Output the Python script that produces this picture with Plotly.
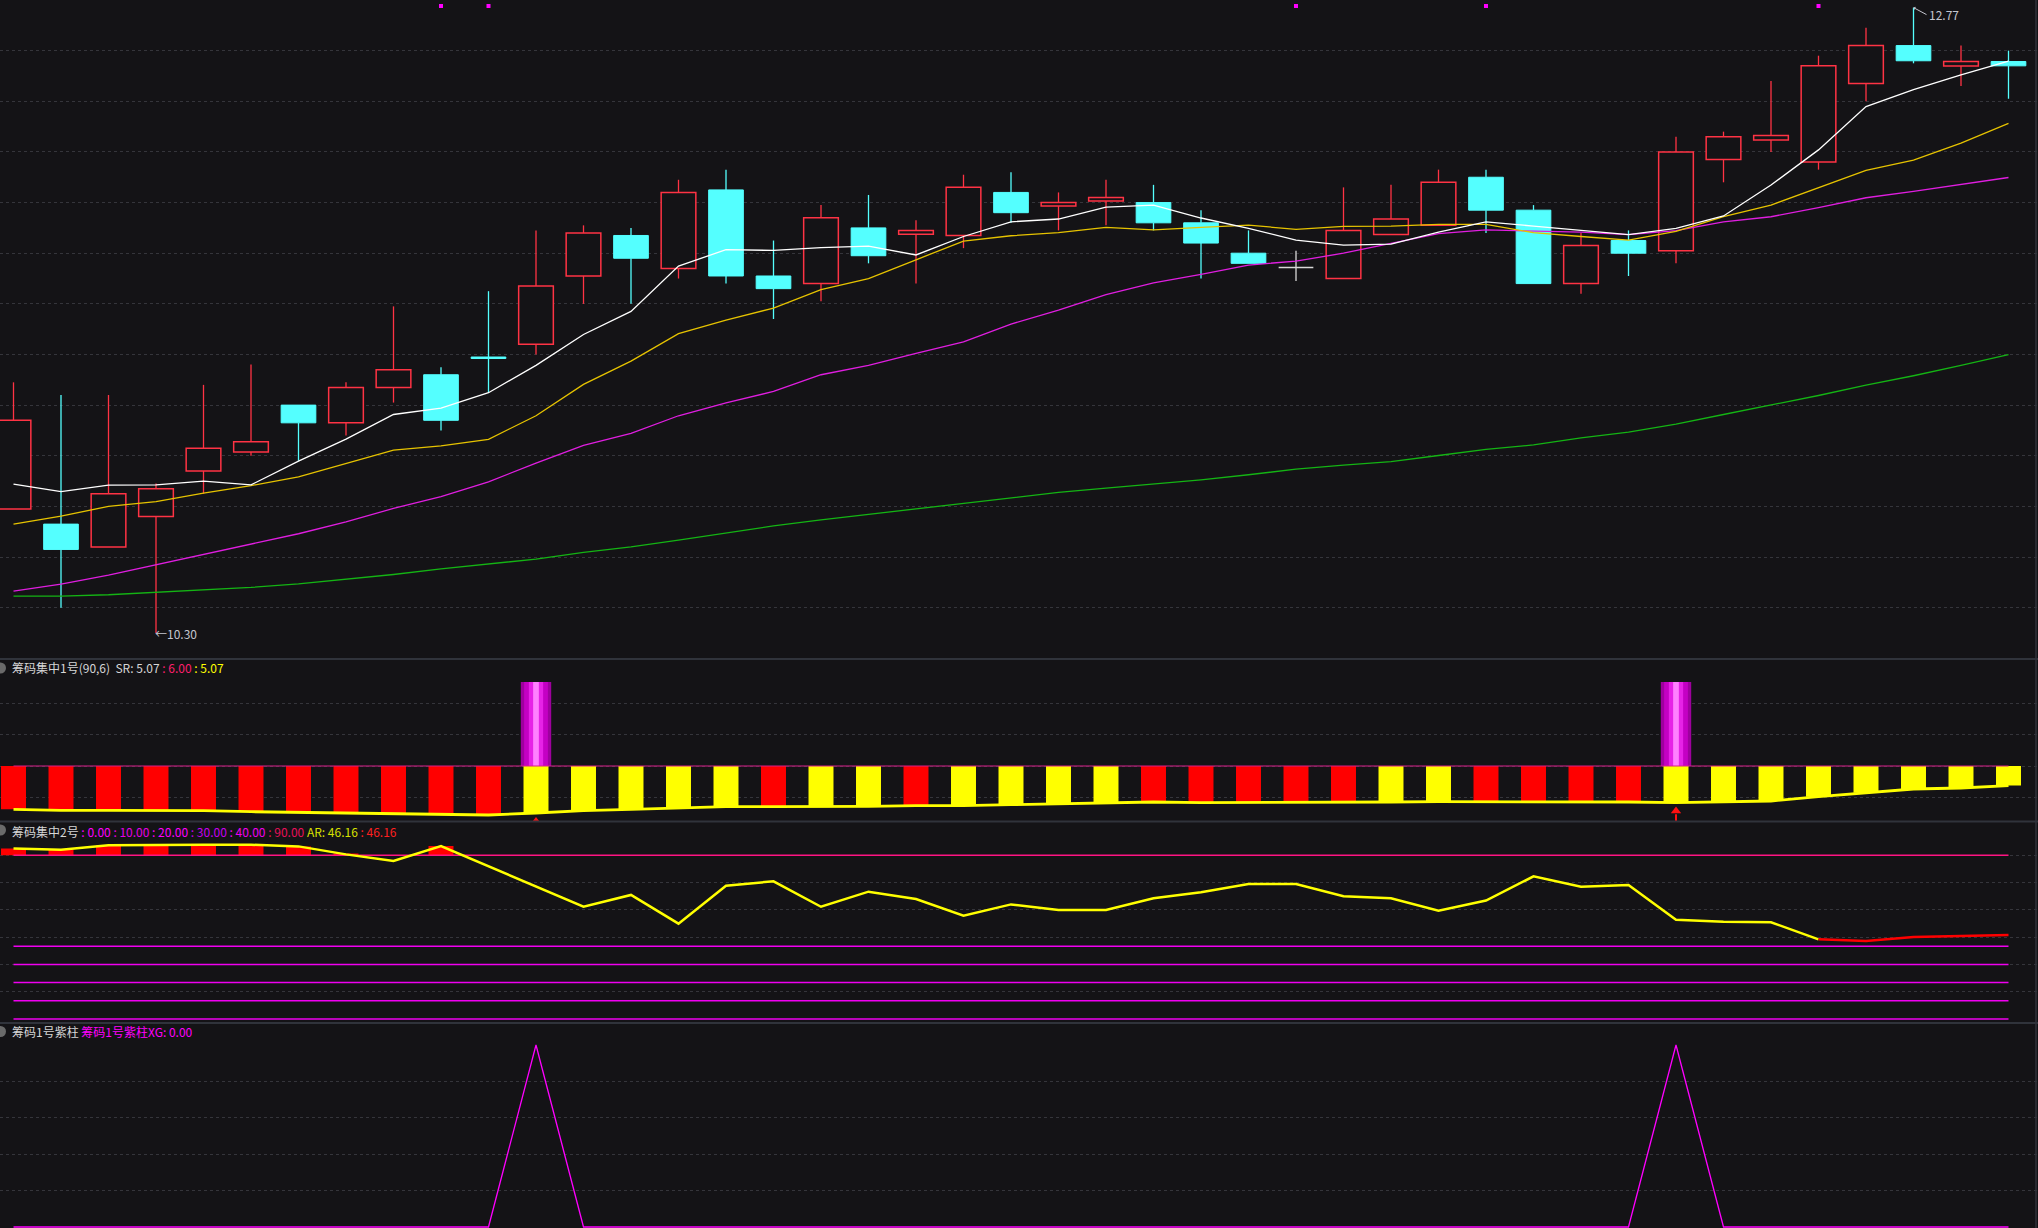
import numpy as np
import plotly.graph_objects as go
from plotly.subplots import make_subplots

W, H = 2038, 1228
BG = "#141316"
GRID = "#35353b"
SEP = "#30333b"
FONT = "Noto Sans CJK SC"

# ---------------- data ----------------
opens = [10.79, 10.73, 10.64, 10.76, 10.94, 11.015, 11.20, 11.13, 11.27, 11.32,
         11.39, 11.44, 11.71, 11.87, 11.74, 12.05, 11.71, 11.68, 11.90, 11.875,
         11.87, 12.04, 11.986, 12.006, 12.00, 11.92, 11.80, 11.744, 11.70, 11.874,
         11.91, 12.10, 11.97, 11.68, 11.85, 11.81, 12.17, 12.247, 12.16, 12.47,
         12.62, 12.539, 12.557]
highs = [11.29, 11.24, 11.24, 10.89, 11.28, 11.36, 11.20, 11.29, 11.59, 11.35,
         11.65, 11.89, 11.91, 11.90, 12.09, 12.13, 11.85, 11.99, 12.03, 11.93,
         12.11, 12.12, 12.04, 12.09, 12.07, 11.97, 11.89, 11.81, 12.06, 12.07,
         12.13, 12.13, 11.99, 11.88, 11.89, 12.26, 12.28, 12.48, 12.58, 12.69,
         12.77, 12.62, 12.60]
lows = [10.79, 10.40, 10.64, 10.30, 10.85, 11.00, 10.98, 11.08, 11.21, 11.10,
        11.25, 11.40, 11.60, 11.60, 11.70, 11.68, 11.54, 11.61, 11.76, 11.68,
        11.82, 11.92, 11.89, 11.91, 11.89, 11.70, 11.76, 11.69, 11.70, 11.874,
        11.91, 11.88, 11.68, 11.64, 11.71, 11.76, 12.08, 12.20, 12.13, 12.40,
        12.55, 12.46, 12.41]
closes = [11.14, 10.63, 10.85, 10.87, 11.03, 11.055, 11.13, 11.27, 11.34, 11.14,
          11.384, 11.67, 11.88, 11.78, 12.04, 11.71, 11.66, 11.94, 11.79, 11.89,
          12.06, 11.96, 12.00, 12.02, 11.92, 11.84, 11.76, 11.744, 11.89, 11.935,
          12.08, 11.97, 11.68, 11.83, 11.80, 12.20, 12.26, 12.265, 12.54, 12.62,
          12.56, 12.557, 12.54]

ma5 = [10.888, 10.858, 10.884, 10.885, 10.900, 10.885, 10.979, 11.066, 11.163, 11.188,
       11.249, 11.357, 11.479, 11.570, 11.749, 11.814, 11.811, 11.822, 11.828, 11.793,
       11.866, 11.924, 11.935, 11.982, 11.990, 11.939, 11.898, 11.852, 11.832, 11.836,
       11.883, 11.924, 11.907, 11.889, 11.873, 11.898, 11.947, 12.069, 12.208, 12.379,
       12.446, 12.504, 12.559]
ma10 = [10.730, 10.762, 10.800, 10.819, 10.852, 10.882, 10.917, 10.971, 11.022, 11.039,
        11.065, 11.158, 11.282, 11.374, 11.482, 11.536, 11.583, 11.656, 11.700, 11.774,
        11.848, 11.869, 11.881, 11.902, 11.892, 11.902, 11.911, 11.894, 11.906, 11.907,
        11.914, 11.914, 11.881, 11.866, 11.852, 11.886, 11.944, 11.990, 12.057, 12.127,
        12.168, 12.235, 12.313]
ma20 = [10.465, 10.493, 10.529, 10.569, 10.609, 10.652, 10.692, 10.739, 10.792, 10.839,
        10.897, 10.971, 11.041, 11.088, 11.158, 11.209, 11.254, 11.320, 11.357, 11.404,
        11.450, 11.520, 11.575, 11.636, 11.683, 11.716, 11.753, 11.769, 11.800, 11.839,
        11.877, 11.892, 11.886, 11.883, 11.873, 11.889, 11.924, 11.944, 11.980, 12.019,
        12.044, 12.072, 12.099]
ma60 = [10.446, 10.446, 10.451, 10.460, 10.470, 10.480, 10.494, 10.513, 10.531, 10.553,
        10.573, 10.592, 10.618, 10.640, 10.667, 10.694, 10.723, 10.747, 10.769, 10.789,
        10.812, 10.835, 10.855, 10.872, 10.888, 10.905, 10.925, 10.947, 10.963, 10.977,
        11.001, 11.025, 11.043, 11.071, 11.093, 11.125, 11.163, 11.199, 11.238, 11.279,
        11.316, 11.357, 11.399]
signal_dots = [9, 10, 27, 31, 38]

# 筹码集中1号
sr_top = 6.00
sr_line = [3.938, 3.890, 3.890, 3.890, 3.871, 3.824, 3.795, 3.762, 3.729, 3.700,
           3.667, 3.762, 3.871, 3.938, 3.986, 4.062, 4.062, 4.062, 4.081, 4.110,
           4.110, 4.157, 4.205, 4.238, 4.286, 4.252, 4.252, 4.252, 4.252, 4.286,
           4.300, 4.300, 4.286, 4.286, 4.286, 4.252, 4.300, 4.333, 4.538, 4.729,
           4.905, 4.952, 5.07]
sr_state = [1, 1, 1, 1, 1, 1, 1, 1, 1, 1, 1,
            0, 0, 0, 0, 0,
            1, 0, 0, 1,
            0, 0, 0, 0,
            1, 1, 1, 1, 1,
            0, 0,
            1, 1, 1, 1,
            0, 0, 0, 0, 0, 0, 0, 0]
purple_idx = [11, 35]
purple_top = 10.0

# 筹码集中2号
ar = [93.8, 93.1, 95.5, 95.8, 95.8, 95.8, 94.9, 90.5, 86.9, 95.1,
      83.9, 72.6, 61.7, 68.2, 52.4, 73.3, 75.7, 61.7, 70.0, 66.0,
      56.8, 63.0, 59.9, 59.9, 66.4, 69.7, 74.2, 74.2, 67.5, 66.4,
      59.5, 65.1, 78.4, 72.7, 73.7, 54.6, 53.5, 53.2, 43.8, 42.9,
      45.1, 45.6, 46.16]
ar_levels = [0, 10, 20, 30, 40]
ar_high = 90
ar_red_start = 38

# 筹码1号紫柱
xg = [0] * 43
for _i in purple_idx:
    xg[_i] = 1

# ---------------- figure ----------------
n = len(opens)
xs = list(range(n))
STEP = 47.5
X0 = 13.5
XR = [-X0 / STEP, (W - X0) / STEP]

def py(p):  # pixel y -> paper y
    return 1 - p / H

def pxx(p):
    return p / W

fig = make_subplots(rows=4, cols=1, shared_xaxes=True, vertical_spacing=0)

UP = "#ff3344"
DN = "#54ffff"
DOJI = "#d8d8d8"
BODY_W = 0.73

up_i = [i for i in range(n) if closes[i] > opens[i]]
dn_i = [i for i in range(n) if closes[i] < opens[i]]
dj_i = [i for i in range(n) if closes[i] == opens[i]]


def wicks(idx):
    wx, wy = [], []
    for i in idx:
        top = max(opens[i], closes[i])
        bot = min(opens[i], closes[i])
        if highs[i] > top:
            wx += [i, i, None]
            wy += [top, highs[i], None]
        if lows[i] < bot:
            wx += [i, i, None]
            wy += [lows[i], bot, None]
    return wx, wy


for idx, col in ((up_i, UP), (dn_i, DN), (dj_i, DOJI)):
    wx, wy = wicks(idx)
    fig.add_trace(go.Scatter(x=wx, y=wy, mode="lines", line=dict(color=col, width=1.3),
                             hoverinfo="skip"), row=1, col=1)

fig.add_trace(go.Bar(x=up_i, y=[closes[i] - opens[i] for i in up_i],
                     base=[opens[i] for i in up_i], width=BODY_W,
                     marker=dict(color=BG, line=dict(color=UP, width=1.5))), row=1, col=1)
fig.add_trace(go.Bar(x=dn_i, y=[opens[i] - closes[i] for i in dn_i],
                     base=[closes[i] for i in dn_i], width=BODY_W,
                     marker=dict(color=DN, line=dict(color=DN, width=1))), row=1, col=1)
dx, dy = [], []
for i in dj_i:
    dx += [i - BODY_W / 2, i + BODY_W / 2, None]
    dy += [opens[i], opens[i], None]
fig.add_trace(go.Scatter(x=dx, y=dy, mode="lines", line=dict(color=DOJI, width=1.5)), row=1, col=1)

for vals, col in ((ma60, "#14b414"), (ma20, "#e01ee0"), (ma10, "#e6c300"), (ma5, "#ffffff")):
    fig.add_trace(go.Scatter(x=xs, y=vals, mode="lines", line=dict(color=col, width=1.3)),
                  row=1, col=1)

MAIN_Y = [10.30 - 26 / 253.2, 10.30 + 633 / 253.2]
fig.add_trace(go.Scatter(x=signal_dots, y=[MAIN_Y[1] - 6 / 253.2] * len(signal_dots),
                         mode="markers", marker=dict(symbol="square", size=4, color="#ff00ff")),
              row=1, col=1)

# price extremes
lo_i = int(np.argmin(lows))
hi_i = int(np.argmax(highs))
fig.add_annotation(x=lo_i, y=lows[lo_i], xref="x", yref="y", text=f"←{lows[lo_i]:.2f}",
                   showarrow=False, xanchor="left", yanchor="middle", xshift=-3,
                   font=dict(size=12, color="#c4c6d0", family=FONT))
fig.add_annotation(x=hi_i, y=highs[hi_i], xref="x", yref="y", text=f"{highs[hi_i]:.2f}",
                   showarrow=True, ax=13, ay=7, xanchor="left", yanchor="middle",
                   arrowhead=1, arrowsize=0.6, arrowwidth=1, arrowcolor="#c4c6d0",
                   font=dict(size=12, color="#c4c6d0", family=FONT))

# ---- panel 2 ----
fig.add_trace(go.Scatter(x=[0, n - 1], y=[sr_top, sr_top], mode="lines",
                         line=dict(color="#d8208a", width=1.2)), row=2, col=1)
SRW = 0.526
for state, col in ((1, "#ff0000"), (0, "#ffff00")):
    idx = [i for i in range(n) if sr_state[i] == state]
    fig.add_trace(go.Bar(x=idx, y=[sr_top - sr_line[i] for i in idx],
                         base=[sr_line[i] for i in idx], width=SRW,
                         marker=dict(color=col, line=dict(width=0))), row=2, col=1)
for w, col in ((0.64, "#9e009e"), (0.50, "#c400c4"), (0.30, "#e622e6"), (0.12, "#ff80ff")):
    fig.add_trace(go.Bar(x=purple_idx, y=[purple_top - sr_top] * len(purple_idx),
                         base=[sr_top] * len(purple_idx), width=w,
                         marker=dict(color=col, line=dict(width=0))), row=2, col=1)
fig.add_trace(go.Scatter(x=xs, y=sr_line, mode="lines", line=dict(color="#ffff00", width=2.8)),
              row=2, col=1)
# red arrows below the signal bars
ax_, ay_ = [], []
for i in purple_idx:
    ax_ += [i, i, None]
    ay_ += [sr_line[i] - 0.55, sr_line[i] - 1.0, None]
fig.add_trace(go.Scatter(x=ax_, y=ay_, mode="lines", line=dict(color="#ff1010", width=2)),
              row=2, col=1)
fig.add_trace(go.Scatter(x=purple_idx, y=[sr_line[i] - 0.40 for i in purple_idx],
                         mode="markers", marker=dict(symbol="triangle-up", size=9, color="#ff1010")),
              row=2, col=1)

# ---- panel 3 ----
for lv in ar_levels:
    fig.add_trace(go.Scatter(x=[0, n - 1], y=[lv, lv], mode="lines",
                             line=dict(color="#f000f0", width=1.5)), row=3, col=1)
fig.add_trace(go.Scatter(x=[0, n - 1], y=[ar_high, ar_high], mode="lines",
                         line=dict(color="#ff1482", width=1.5)), row=3, col=1)
hi_idx = [i for i in range(n) if ar[i] > ar_high]
fig.add_trace(go.Bar(x=hi_idx, y=[ar[i] - ar_high for i in hi_idx], base=[ar_high] * len(hi_idx),
                     width=SRW, marker=dict(color="#ff0000", line=dict(width=0))), row=3, col=1)
fig.add_trace(go.Scatter(x=xs[:ar_red_start + 1], y=ar[:ar_red_start + 1], mode="lines",
                         line=dict(color="#ffff00", width=2.5)), row=3, col=1)
fig.add_trace(go.Scatter(x=xs[ar_red_start:], y=ar[ar_red_start:], mode="lines",
                         line=dict(color="#ff0000", width=2.5)), row=3, col=1)

# ---- panel 4 ----
fig.add_trace(go.Scatter(x=xs, y=xg, mode="lines", line=dict(color="#ff00ff", width=1.3)),
              row=4, col=1)

# ---------------- layout ----------------
d1 = py(659)
d2 = py(821.5)
d3 = py(1023)
axis_common = dict(showticklabels=False, zeroline=False, showline=False, ticks="",
                   showgrid=True, gridcolor=GRID, griddash="dot", gridwidth=1, fixedrange=True)
fig.update_layout(
    width=W, height=H, margin=dict(l=0, r=0, t=0, b=0),
    paper_bgcolor=BG, plot_bgcolor=BG, showlegend=False, barmode="overlay",
    hovermode=False, font=dict(family=FONT, size=12, color="#d0d0d0"),
    yaxis=dict(domain=[d1, 1], range=MAIN_Y,
               tickvals=[round(10.4 + 0.2 * k, 2) for k in range(12)], **axis_common),
    yaxis2=dict(domain=[d2, d1], range=[6 - (821.5 - 766) / 21, 6 + (766 - 659) / 21],
                tickvals=[4.5, 6, 7.5, 9], **axis_common),
    yaxis3=dict(domain=[d3, d2], range=[(1019 - 1023) / 1.819, (1019 - 821.5) / 1.819],
                tickvals=[15, 30, 45, 60, 75, 90], **axis_common),
    yaxis4=dict(domain=[0, d3], range=[(1227 - 1228) / 182, (1227 - 1023) / 182],
                tickvals=[0.2, 0.4, 0.6, 0.8], **axis_common),
)
for k in ("xaxis", "xaxis2", "xaxis3", "xaxis4"):
    fig.layout[k].update(range=XR, showgrid=False, zeroline=False, showticklabels=False,
                         showline=False, ticks="", fixedrange=True)

shapes = []
for yy in (659, 821.5, 1023):
    shapes.append(dict(type="line", xref="paper", yref="paper", x0=0, x1=1, y0=py(yy), y1=py(yy),
                       line=dict(color=SEP, width=2)))
shapes.append(dict(type="line", xref="paper", yref="paper", x0=pxx(2036), x1=pxx(2036), y0=0, y1=1,
                   line=dict(color=SEP, width=1.5)))
for cy in (668, 830, 1031.5):
    shapes.append(dict(type="circle", xref="paper", yref="paper", x0=pxx(-5), x1=pxx(6),
                       y0=py(cy + 5.5), y1=py(cy - 5.5), fillcolor="#6a6a6a",
                       line=dict(color="#6a6a6a", width=0)))
fig.update_layout(shapes=shapes)

def span(t, c):
    return f'<span style="color:{c}">{t}</span>'

t2 = (span(f"筹码集中1号(90,6)  SR: {sr_line[-1]:.2f}", "#d6d6d6")
      + span(f" : {sr_top:.2f}", "#ff1f6e") + span(f" : {sr_line[-1]:.2f}", "#ffff00"))
lvl_cols = ["#ff00ff", "#e600e6", "#ff00ff", "#c800f0", "#f000f0"]
t3 = span("筹码集中2号", "#d6d6d6")
for lv, c in zip(ar_levels, lvl_cols):
    t3 += span(f" : {lv:.2f}", c)
t3 += span(f" : {ar_high:.2f}", "#e8105a")
t3 += span(f" AR: {ar[-1]:.2f}", "#d8e000") + span(f" : {ar[-1]:.2f}", "#ff2020")
t4 = span("筹码1号紫柱", "#d6d6d6") + span(f" 筹码1号紫柱XG: {xg[-1]:.2f}", "#ff00ff")

for txt, cy in ((t2, 667.5), (t3, 831.5), (t4, 1031.5)):
    fig.add_annotation(x=pxx(10), y=py(cy), xref="paper", yref="paper", text=txt,
                       showarrow=False, xanchor="left", yanchor="middle",
                       font=dict(size=12, family=FONT))

fig.write_html("out.html", config={"displayModeBar": False},
               post_script="document.body.style.margin='0';document.body.style.overflow='hidden';")
